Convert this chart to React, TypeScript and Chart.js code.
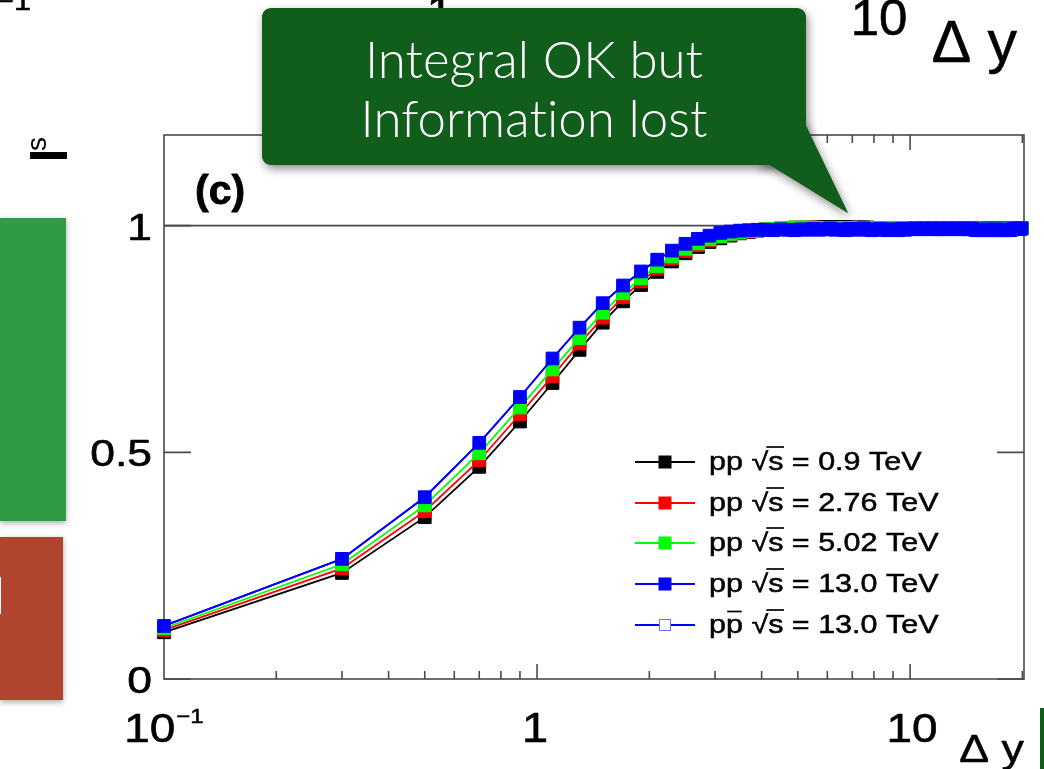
import { useEffect, useRef } from "react";
import { Chart, registerables } from "chart.js";

Chart.register(...registerables);

// Rapidity window widths (bin centres)
const deltaY = [
  0.1, 0.3, 0.5, 0.7, 0.9, 1.1, 1.3, 1.5, 1.7, 1.9,
  2.1, 2.3, 2.5, 2.7, 2.9, 3.1, 3.3, 3.5, 3.7, 3.9,
  4.1, 4.3, 4.5, 4.7, 4.9, 5.1, 5.3, 5.5, 5.7, 5.9,
  6.1, 6.3, 6.5, 6.7, 6.9, 7.1, 7.3, 7.5, 7.7, 7.9,
  8.1, 8.3, 8.5, 8.7, 8.9, 9.1, 9.3, 9.5, 9.7, 9.9,
  10.1, 10.3, 10.5, 10.7, 10.9, 11.1, 11.3, 11.5, 11.7, 11.9,
  12.1, 12.3, 12.5, 12.7, 12.9, 13.1, 13.3, 13.5, 13.7, 13.9,
  14.1, 14.3, 14.5, 14.7, 14.9, 15.1, 15.3, 15.5, 15.7, 15.9,
  16.1, 16.3, 16.5, 16.7, 16.9, 17.1, 17.3, 17.5, 17.7, 17.9,
  18.1, 18.3, 18.5, 18.7, 18.9, 19.1, 19.3, 19.5, 19.7, 19.9,
];

// pp, sqrt(s) = 0.9 TeV
const pp09 = [
  0.103, 0.234, 0.357, 0.468, 0.568, 0.653, 0.726, 0.786, 0.833, 0.869,
  0.898, 0.921, 0.939, 0.953, 0.964, 0.972, 0.978, 0.983, 0.986, 0.989,
  0.991, 0.992, 0.993, 0.994, 0.994, 0.995, 0.995, 0.996, 0.996, 0.997,
  0.997, 0.997, 0.997, 0.997, 0.996, 0.996, 0.996, 0.996, 0.996, 0.995,
  0.995, 0.995, 0.995, 0.995, 0.995, 0.995, 0.995, 0.995, 0.995, 0.995,
  0.995, 0.995, 0.994, 0.995, 0.995, 0.994, 0.995, 0.995, 0.994, 0.995,
  0.995, 0.994, 0.995, 0.995, 0.994, 0.995, 0.994, 0.995, 0.995, 0.994,
  0.995, 0.994, 0.995, 0.995, 0.994, 0.994, 0.995, 0.994, 0.995, 0.994,
  0.994, 0.995, 0.994, 0.994, 0.995, 0.994, 0.994, 0.995, 0.994, 0.994,
  0.995, 0.994, 0.994, 0.995, 0.994, 0.994, 0.995, 0.994, 0.994, 0.995,
];

// pp, sqrt(s) = 2.76 TeV
const pp276 = [
  0.108, 0.244, 0.370, 0.482, 0.584, 0.668, 0.740, 0.797, 0.842, 0.877,
  0.905, 0.927, 0.944, 0.957, 0.967, 0.975, 0.980, 0.984, 0.987, 0.990,
  0.992, 0.993, 0.994, 0.995, 0.996, 0.996, 0.996, 0.996, 0.995, 0.995,
  0.995, 0.995, 0.995, 0.994, 0.995, 0.995, 0.994, 0.995, 0.994, 0.995,
  0.994, 0.995, 0.994, 0.994, 0.995, 0.994, 0.994, 0.995, 0.994, 0.994,
  0.994, 0.994, 0.995, 0.994, 0.994, 0.994, 0.995, 0.994, 0.994, 0.994,
  0.994, 0.995, 0.994, 0.994, 0.994, 0.994, 0.995, 0.994, 0.994, 0.994,
  0.994, 0.994, 0.994, 0.995, 0.994, 0.994, 0.994, 0.994, 0.994, 0.994,
  0.994, 0.994, 0.994, 0.994, 0.994, 0.994, 0.994, 0.994, 0.994, 0.994,
  0.994, 0.994, 0.994, 0.994, 0.994, 0.994, 0.994, 0.994, 0.994, 0.994,
];

// pp, sqrt(s) = 5.02 TeV
const pp502 = [
  0.112, 0.253, 0.383, 0.498, 0.599, 0.683, 0.752, 0.808, 0.851, 0.884,
  0.911, 0.932, 0.949, 0.961, 0.970, 0.977, 0.982, 0.985, 0.988, 0.990,
  0.992, 0.993, 0.994, 0.995, 0.996, 0.996, 0.996, 0.995, 0.995, 0.995,
  0.994, 0.995, 0.994, 0.994, 0.995, 0.994, 0.994, 0.994, 0.994, 0.994,
  0.994, 0.994, 0.993, 0.994, 0.994, 0.994, 0.993, 0.994, 0.994, 0.993,
  0.994, 0.994, 0.994, 0.993, 0.994, 0.994, 0.994, 0.993, 0.994, 0.994,
  0.994, 0.993, 0.994, 0.994, 0.994, 0.993, 0.994, 0.994, 0.994, 0.993,
  0.994, 0.994, 0.993, 0.994, 0.993, 0.993, 0.993, 0.993, 0.993, 0.993,
  0.993, 0.993, 0.993, 0.993, 0.993, 0.993, 0.993, 0.993, 0.993, 0.993,
  0.993, 0.993, 0.993, 0.993, 0.994, 0.994, 0.994, 0.994, 0.994, 0.994,
];

// pp, sqrt(s) = 13.0 TeV
const pp13 = [
  0.117, 0.265, 0.401, 0.521, 0.622, 0.707, 0.775, 0.829, 0.868, 0.899,
  0.925, 0.945, 0.960, 0.971, 0.978, 0.984, 0.987, 0.989, 0.990, 0.991,
  0.991, 0.990, 0.992, 0.991, 0.990, 0.992, 0.991, 0.993, 0.991, 0.992,
  0.994, 0.991, 0.992, 0.990, 0.993, 0.991, 0.992, 0.994, 0.991, 0.990,
  0.992, 0.993, 0.991, 0.990, 0.992, 0.991, 0.990, 0.993, 0.991, 0.992,
  0.993, 0.994, 0.993, 0.992, 0.994, 0.993, 0.993, 0.994, 0.992, 0.993,
  0.994, 0.993, 0.992, 0.994, 0.993, 0.993, 0.994, 0.992, 0.993, 0.994,
  0.993, 0.992, 0.994, 0.993, 0.991, 0.990, 0.991, 0.990, 0.991, 0.990,
  0.992, 0.990, 0.991, 0.990, 0.991, 0.992, 0.990, 0.991, 0.990, 0.991,
  0.990, 0.991, 0.990, 0.991, 0.993, 0.994, 0.993, 0.994, 0.993, 0.994,
];

// p-pbar, sqrt(s) = 13.0 TeV
const ppbar13 = [
  0.117, 0.265, 0.401, 0.521, 0.622, 0.707, 0.775, 0.829, 0.868, 0.899,
  0.925, 0.945, 0.960, 0.971, 0.978, 0.984, 0.987, 0.989, 0.989, 0.989,
  0.989, 0.988, 0.990, 0.989, 0.988, 0.990, 0.989, 0.991, 0.989, 0.990,
  0.992, 0.989, 0.990, 0.988, 0.991, 0.989, 0.990, 0.992, 0.989, 0.988,
  0.990, 0.991, 0.989, 0.988, 0.990, 0.989, 0.988, 0.991, 0.989, 0.990,
  0.992, 0.993, 0.992, 0.991, 0.993, 0.992, 0.992, 0.993, 0.991, 0.992,
  0.993, 0.992, 0.991, 0.993, 0.992, 0.992, 0.993, 0.991, 0.992, 0.993,
  0.992, 0.991, 0.993, 0.992, 0.989, 0.988, 0.989, 0.988, 0.989, 0.988,
  0.990, 0.988, 0.989, 0.988, 0.989, 0.990, 0.988, 0.989, 0.988, 0.989,
  0.988, 0.989, 0.988, 0.989, 0.992, 0.993, 0.992, 0.993, 0.992, 0.993,
];

const seriesValues = [pp09, pp276, pp502, pp13, ppbar13];
const seriesEnergies = ["0.9", "2.76", "5.02", "13.0", "13.0"];
const seriesAntiproton = [false, false, false, false, true];
const seriesColors = ["#000000", "#ff0000", "#00ff00", "#0000ff", "#0000ff"];

const yTickValues = [0, 0.5, 1];
const yTickLabels = ["0", "0.5", "1"];
const xMajorTicks = [0.1, 1, 10];
const xMinorTicks = [0.2, 0.3, 0.4, 0.5, 0.6, 0.7, 0.8, 0.9, 2, 3, 4, 5, 6, 7, 8, 9, 20];
const xAxisTitle = "\u0394 y";
const panelTag = "(c)";
const calloutLines = ["Integral OK but", "Information lost"];

const ROOT_FONT = '"Liberation Sans", Arial, Helvetica, sans-serif';
const CALLOUT_FONT = '300 51px Lato, "Open Sans", sans-serif';
const SX = 1.18; // horizontal stretch of the rendered slide

function drawText(
  ctx: CanvasRenderingContext2D,
  s: string,
  x: number,
  y: number,
  font: string,
  color: string,
  align: "left" | "right" | "center",
  sx: number = SX,
  weight: number = 0
): number {
  ctx.save();
  ctx.font = font;
  ctx.fillStyle = color;
  ctx.strokeStyle = color;
  ctx.textAlign = "left";
  ctx.textBaseline = "alphabetic";
  const w = ctx.measureText(s).width * sx;
  const x0 = align === "right" ? x - w : align === "center" ? x - w / 2 : x;
  ctx.translate(x0, y);
  ctx.scale(sx, 1);
  ctx.fillText(s, 0, 0);
  if (weight > 0) {
    ctx.lineWidth = weight;
    ctx.lineJoin = "round";
    ctx.strokeText(s, 0, 0);
  }
  ctx.restore();
  return w;
}

// Draws a line in pieces so that "ti"/"fi" ligatures are not formed
function drawPlainText(ctx: CanvasRenderingContext2D, s: string, cx: number, y: number, font: string, color: string) {
  const pieces = s.split(/(?<=t)(?=i)|(?<=f)(?=[il])/);
  ctx.save();
  ctx.font = font;
  ctx.fillStyle = color;
  ctx.textAlign = "left";
  ctx.textBaseline = "alphabetic";
  const widths = pieces.map((p) => ctx.measureText(p).width);
  const total = widths.reduce((a, b) => a + b, 0);
  let x = cx - total / 2;
  pieces.forEach((p, i) => {
    ctx.fillText(p, x, y);
    x += widths[i];
  });
  ctx.restore();
}

function drawLegendLabel(
  ctx: CanvasRenderingContext2D,
  x: number,
  baseline: number,
  energy: string,
  anti: boolean
) {
  ctx.save();
  ctx.translate(x, baseline);
  ctx.scale(1.22, 1);
  ctx.font = `25px ${ROOT_FONT}`;
  ctx.fillStyle = "#000";
  ctx.strokeStyle = "#000";
  ctx.textBaseline = "alphabetic";
  const put = (s: string, px: number) => {
    ctx.lineWidth = 0.5;
    ctx.fillText(s, px, 0);
    ctx.strokeText(s, px, 0);
  };
  let cx = 0;
  const wp = ctx.measureText("p").width;
  put("p", cx);
  cx += wp;
  put("p", cx);
  ctx.lineWidth = 1.7;
  if (anti) {
    ctx.beginPath();
    ctx.moveTo(cx + 1, -21);
    ctx.lineTo(cx + wp - 1, -21);
    ctx.stroke();
  }
  cx += wp + ctx.measureText(" ").width;
  put("\u221A", cx);
  const wr = ctx.measureText("\u221A").width;
  const rootEnd = cx + wr;
  cx += wr;
  put("s", cx);
  const ws = ctx.measureText("s").width;
  ctx.lineWidth = 1.7;
  ctx.beginPath();
  ctx.moveTo(rootEnd - 1.5, -22.5);
  ctx.lineTo(cx + ws + 0.5, -22.5);
  ctx.stroke();
  cx += ws;
  put(` = ${energy} TeV`, cx);
  ctx.restore();
}

function roundRectPath(ctx: CanvasRenderingContext2D, x: number, y: number, w: number, h: number, r: number) {
  ctx.beginPath();
  ctx.moveTo(x + r, y);
  ctx.lineTo(x + w - r, y);
  ctx.quadraticCurveTo(x + w, y, x + w, y + r);
  ctx.lineTo(x + w, y + h - r);
  ctx.quadraticCurveTo(x + w, y + h, x + w - r, y + h);
  ctx.lineTo(x + r, y + h);
  ctx.quadraticCurveTo(x, y + h, x, y + h - r);
  ctx.lineTo(x, y + r);
  ctx.quadraticCurveTo(x, y, x + r, y);
  ctx.closePath();
}

function calloutShape(ctx: CanvasRenderingContext2D) {
  roundRectPath(ctx, 262, 8, 544, 157, 11);
  ctx.fill();
  ctx.beginPath();
  ctx.moveTo(755, 165);
  ctx.lineTo(806, 118);
  ctx.lineTo(806, 126);
  ctx.lineTo(848, 213);
  ctx.lineTo(770, 165);
  ctx.closePath();
  ctx.fill();
}

// Frame, ticks and the reference line at 1, drawn beneath the data
const framePlugin = {
  id: "rootFrame",
  beforeDatasetsDraw(chart: any) {
    const { ctx, chartArea, scales } = chart;
    const { left, top, right, bottom } = chartArea;
    const xs = scales.x;
    const ys = scales.y;
    ctx.save();
    ctx.strokeStyle = "#4a4a4a";
    ctx.lineWidth = 1.6;
    ctx.lineCap = "butt";

    const y1 = ys.getPixelForValue(1);
    ctx.beginPath();
    ctx.moveTo(left, y1);
    ctx.lineTo(right, y1);
    ctx.stroke();

    ctx.strokeRect(left, top, right - left, bottom - top);

    ctx.beginPath();
    for (const v of xMinorTicks) {
      const px = xs.getPixelForValue(v);
      if (px <= left || px >= right) continue;
      ctx.moveTo(px, bottom);
      ctx.lineTo(px, bottom - 8);
      ctx.moveTo(px, top);
      ctx.lineTo(px, top + 8);
    }
    for (const v of xMajorTicks) {
      const px = xs.getPixelForValue(v);
      if (px <= left + 1 || px >= right) continue;
      ctx.moveTo(px, bottom);
      ctx.lineTo(px, bottom - 15);
      ctx.moveTo(px, top);
      ctx.lineTo(px, top + 15);
    }
    for (const v of yTickValues) {
      const py = ys.getPixelForValue(v);
      ctx.moveTo(left, py);
      ctx.lineTo(left + 27, py);
      ctx.moveTo(right, py);
      ctx.lineTo(right - 27, py);
    }
    ctx.stroke();
    ctx.restore();
  },
};

// Labels, legend and the slide elements around the plot
const overlayPlugin = {
  id: "overlay",
  afterDraw(chart: any) {
    const { ctx, chartArea, scales } = chart;
    const { right } = chartArea;
    const xs = scales.x;
    const ys = scales.y;

    // y tick labels
    yTickValues.forEach((v, i) => {
      const py = ys.getPixelForValue(v);
      drawText(ctx, yTickLabels[i], 152, py + 14, `37px ${ROOT_FONT}`, "#000", "right", 1.2, 0.6);
    });

    // x tick labels
    const xlBase = 742;
    {
      const px = xs.getPixelForValue(xMajorTicks[0]);
      ctx.save();
      ctx.font = `41px ${ROOT_FONT}`;
      const wBase = ctx.measureText("10").width * 1.12;
      ctx.font = `20px ${ROOT_FONT}`;
      const wExp = ctx.measureText("\u22121").width * 1.2;
      ctx.restore();
      const x0 = px - (wBase + wExp + 1) / 2;
      drawText(ctx, "10", x0, xlBase, `41px ${ROOT_FONT}`, "#000", "left", 1.12, 0.6);
      drawText(ctx, "\u22121", x0 + wBase + 1, xlBase - 19, `20px ${ROOT_FONT}`, "#000", "left", 1.2, 0.5);
    }
    drawText(ctx, "1", xs.getPixelForValue(xMajorTicks[1]) - 2, xlBase, `42px ${ROOT_FONT}`, "#000", "center", 1.12, 0.6);
    drawText(ctx, "10", xs.getPixelForValue(xMajorTicks[2]) + 2, xlBase, `41px ${ROOT_FONT}`, "#000", "center", 1.12, 0.6);

    // axis title
    drawText(ctx, xAxisTitle, right, 762, `38px ${ROOT_FONT}`, "#000", "right", 1.18, 0.5);

    // panel tag
    drawText(ctx, panelTag, 195, 204, `bold 41px ${ROOT_FONT}`, "#000", "left", 1.0, 0.8);

    // legend
    const rowY = [462, 503, 543, 584, 625];
    seriesValues.forEach((_, i) => {
      const cy = rowY[i];
      const col = seriesColors[i];
      ctx.save();
      ctx.strokeStyle = col;
      ctx.lineWidth = 2;
      ctx.beginPath();
      ctx.moveTo(635, cy);
      ctx.lineTo(695, cy);
      ctx.stroke();
      if (seriesAntiproton[i]) {
        ctx.fillStyle = "#fff";
        ctx.fillRect(659, cy - 6, 12, 12);
        ctx.strokeStyle = "rgba(60,60,255,0.75)";
        ctx.lineWidth = 1;
        ctx.strokeRect(659.5, cy - 5.5, 11, 11);
      } else {
        ctx.fillStyle = col;
        ctx.fillRect(658.5, cy - 6.5, 13, 13);
      }
      ctx.restore();
      drawLegendLabel(ctx, 709, cy + 7.5, seriesEnergies[i], seriesAntiproton[i]);
    });

    // slide elements on the left
    ctx.save();
    ctx.shadowColor = "rgba(0,0,0,0.35)";
    ctx.shadowBlur = 6;
    ctx.shadowOffsetY = 2;
    ctx.fillStyle = "#309a44";
    ctx.fillRect(0, 218, 66, 303);
    ctx.fillStyle = "#b1442f";
    ctx.fillRect(0, 537, 63, 163);
    ctx.restore();
    drawText(ctx, "l", -6, 614, `300 52px Lato, "Open Sans", sans-serif`, "#ffffff", "left", 1);

    // pieces of the panel above
    drawText(ctx, "\u22121", -4, 10, `26px ${ROOT_FONT}`, "#000", "left", 1.18, 0.5);
    drawText(ctx, "1", 440, 27, `44px ${ROOT_FONT}`, "#000", "center", 1.1, 0.6);
    drawText(ctx, "10", 879, 35, `50px ${ROOT_FONT}`, "#000", "center", 1.02, 0.6);
    drawText(ctx, xAxisTitle, 1017, 62, `59px ${ROOT_FONT}`, "#000", "right", 1.0, 0.6);
    ctx.save();
    ctx.translate(46, 151);
    ctx.rotate(-Math.PI / 2);
    ctx.font = `28px ${ROOT_FONT}`;
    ctx.fillStyle = "#000";
    ctx.fillText("s", 0, 0);
    ctx.restore();
    ctx.fillStyle = "#000";
    ctx.fillRect(30, 152, 37, 7);

    // dark green sliver at the bottom right
    ctx.fillStyle = "#105d1c";
    ctx.fillRect(1040, 708, 4, 61);

    // callout
    ctx.save();
    ctx.shadowColor = "rgba(0,0,0,0.45)";
    ctx.shadowBlur = 10;
    ctx.shadowOffsetX = 2;
    ctx.shadowOffsetY = 4;
    ctx.fillStyle = "#105d1c";
    calloutShape(ctx);
    ctx.restore();
    ctx.save();
    ctx.fillStyle = "#105d1c";
    calloutShape(ctx);
    ctx.restore();

    const baselines = [78, 137];
    calloutLines.forEach((line, i) => {
      drawPlainText(ctx, line, 534, baselines[i], CALLOUT_FONT, "#ffffff");
    });
  },
};

export default function App() {
  const canvasRef = useRef<HTMLCanvasElement | null>(null);

  useEffect(() => {
    const canvas = canvasRef.current;
    if (!canvas) return;
    const datasets = seriesValues.map((vals, i) => {
      const col = seriesColors[i];
      const open = seriesAntiproton[i];
      return {
        label: `${open ? "p\u0305p" : "pp"} \u221As = ${seriesEnergies[i]} TeV`,
        data: deltaY.map((x, j) => ({ x, y: vals[j] })),
        borderColor: col,
        backgroundColor: open ? "rgba(0,0,0,0)" : col,
        pointBackgroundColor: open ? "rgba(0,0,0,0)" : col,
        pointBorderColor: col,
        pointStyle: "rect" as const,
        pointRadius: open ? 6.5 : 9,
        pointBorderWidth: 1,
        borderWidth: 1.8,
        tension: 0,
        fill: false,
        clip: false as any,
        order: 4 - i,
      };
    });

    const chart = new Chart(canvas, {
      type: "line",
      data: { datasets },
      options: {
        responsive: false,
        animation: false,
        devicePixelRatio: 1,
        layout: { padding: { left: 164, top: 135, right: 20, bottom: 90 } },
        scales: {
          x: { type: "logarithmic", min: 0.1, max: 20.2, display: false },
          y: { type: "linear", min: 0, max: 1.2, display: false },
        },
        plugins: {
          legend: { display: false },
          tooltip: { enabled: false },
        },
      },
      plugins: [framePlugin, overlayPlugin],
    });
    return () => chart.destroy();
  }, []);

  return (
    <div style={{ position: "absolute", left: 0, top: 0, width: 1044, height: 769, background: "#fff" }}>
      <canvas ref={canvasRef} width={1044} height={769} style={{ display: "block" }} />
    </div>
  );
}
